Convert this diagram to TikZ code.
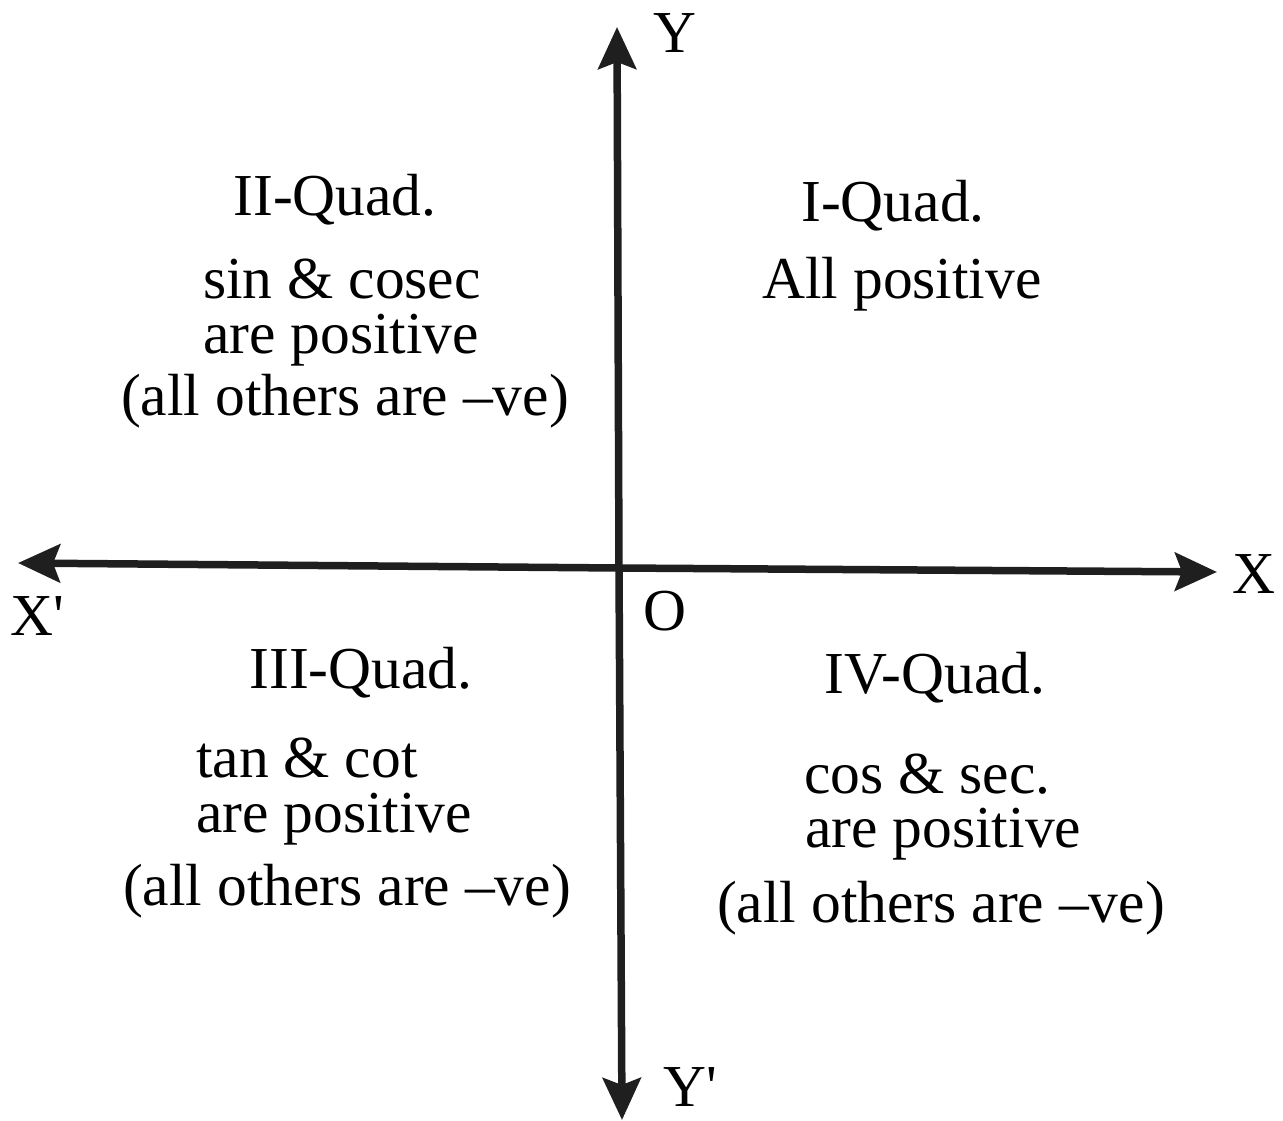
\documentclass[tikz,border=0pt]{standalone}
\usepackage{fontspec}
\setmainfont{Liberation Serif}
\usetikzlibrary{arrows.meta}
\tikzset{
  txt/.style={inner sep=0pt, font=\fontsize{59.5}{70}\selectfont, text=black},
  axis/.style={line width=7.5pt, draw=black!88, -{Stealth[length=42pt,width=38pt,inset=7pt]}},
}
\begin{document}
\begin{tikzpicture}[x=1pt,y=-1pt]
\useasboundingbox (0,0) rectangle (1283,1121);
% axes
\coordinate (xl) at (18,563);
\coordinate (xr) at (1217,572);
\coordinate (yt) at (617,27);
\coordinate (yb) at (622,1120);
\coordinate (o) at (619,568);
\draw[axis] (o) -- (xr);
\draw[axis] (o) -- (xl);
\draw[axis] (o) -- (yt);
\draw[axis] (o) -- (yb);
% axis labels
\node[txt, anchor=base west] (ly) at (653,53) {Y};
\node[txt, anchor=base west] (lx) at (1232,593) {X};
\node[txt, anchor=base west] (lxp) at (10,635) {X\textquotesingle};
\node[txt, anchor=base west] (lo) at (643,630) {O};
\node[txt, anchor=base west] (lyp) at (663,1106) {Y\textquotesingle};
% II quadrant
\node[txt, anchor=base] (q2a) at (335,215) {II-Quad.};
\node[txt, anchor=base west] (q2b) at (203,298) {sin \& cosec};
\node[txt, anchor=base west] (q2c) at (203,353) {are positive};
\node[txt, anchor=base] (q2d) at (345,415) {(all others are --ve)};
% I quadrant
\node[txt, anchor=base] (q1a) at (893,222) {I-Quad.};
\node[txt, anchor=base] (q1b) at (902,298) {All positive};
% III quadrant
\node[txt, anchor=base] (q3a) at (361,688) {III-Quad.};
\node[txt, anchor=base west] (q3b) at (196,777) {tan \& cot};
\node[txt, anchor=base west] (q3c) at (196,832) {are positive};
\node[txt, anchor=base] (q3d) at (347,905) {(all others are --ve)};
% IV quadrant
\node[txt, anchor=base] (q4a) at (935,693) {IV-Quad.};
\node[txt, anchor=base west] (q4b) at (804,793) {cos \& sec.};
\node[txt, anchor=base west] (q4c) at (805,847) {are positive};
\node[txt, anchor=base] (q4d) at (941,922) {(all others are --ve)};
\end{tikzpicture}
\end{document}
